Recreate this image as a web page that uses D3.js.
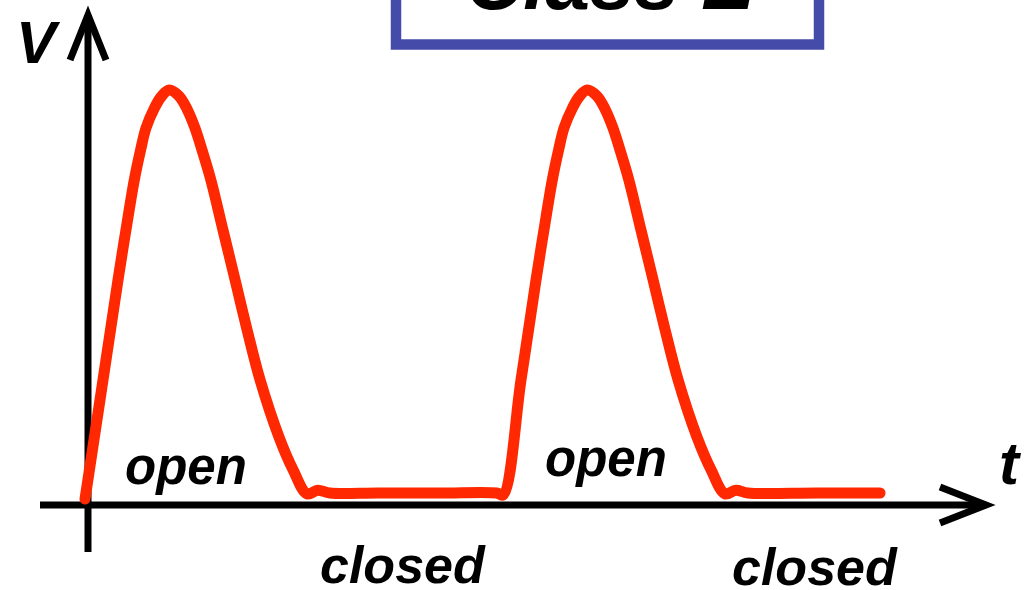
<!DOCTYPE html>
<html>
<head>
<meta charset="utf-8">
<script src="https://cdn.jsdelivr.net/npm/d3@7"></script>
<style>
  html, body { margin: 0; padding: 0; background: #fff; }
  svg { display: block; }
  text { font-family: "Liberation Sans", Arial, sans-serif; font-weight: bold; font-style: italic; fill: #000; }
</style>
</head>
<body>
<svg id="chart" width="1033" height="590"></svg>
<script>
// ---- data ----
const title = "Class E";
const axisLabelV = "V";
const axisLabelT = "t";
const stateLabels = ["open", "closed", "open", "closed"];
// time (one switching period = 1) and normalised voltage
const tValues = [
  0.000, 0.043, 0.079, 0.098, 0.118, 0.133, 0.146, 0.166, 0.182, 0.201, 0.225, 0.244, 0.263, 0.280, 0.301, 0.330, 0.359, 0.388, 0.419, 0.464, 0.498, 0.531, 0.557, 0.586, 0.700, 0.850, 0.985,
  1.000, 1.043, 1.079, 1.098, 1.118, 1.133, 1.146, 1.166, 1.182, 1.201, 1.225, 1.244, 1.263, 1.280, 1.301, 1.330, 1.359, 1.388, 1.419, 1.464, 1.498, 1.531, 1.557, 1.586, 1.750, 1.902
];
const vValues = [
  -0.015, 0.280, 0.529, 0.653, 0.777, 0.851, 0.906, 0.955, 0.983, 1.000, 0.985, 0.953, 0.906, 0.851, 0.777, 0.653, 0.529, 0.404, 0.280, 0.139, 0.057, -0.002, 0.007, 0.000, 0.000, 0.000, 0.000,
  -0.005, 0.280, 0.529, 0.653, 0.777, 0.851, 0.906, 0.955, 0.983, 1.000, 0.985, 0.953, 0.906, 0.851, 0.777, 0.653, 0.529, 0.404, 0.280, 0.139, 0.057, -0.002, 0.007, 0.000, 0.000, 0.000
];

// ---- layout ----
const svg = d3.select("#chart");
const x = d3.scaleLinear().domain([0, 1]).range([85, 503]);
const y = d3.scaleLinear().domain([0, 1]).range([493, 90]);
const axisY = 505, axisX = 88;
const black = "#000";
const red = "#ff2800";

// title box
svg.append("rect")
  .attr("x", 396).attr("y", -30).attr("width", 423).attr("height", 74.5)
  .attr("fill", "#fff").attr("stroke", "#454ba9").attr("stroke-width", 10.5);
svg.append("text").attr("x", 610).attr("y", 9).attr("text-anchor", "middle")
  .style("font-size", "80px").text(title);

// axes
svg.append("line").attr("x1", 40).attr("x2", 986).attr("y1", axisY).attr("y2", axisY)
  .attr("stroke", black).attr("stroke-width", 7);
svg.append("polyline").attr("points", "940,487 986,505 940,523")
  .attr("fill", "none").attr("stroke", black).attr("stroke-width", 7).attr("stroke-linejoin", "miter").attr("stroke-miterlimit", 10);
svg.append("line").attr("x1", axisX).attr("x2", axisX).attr("y1", 552).attr("y2", 15)
  .attr("stroke", black).attr("stroke-width", 7);
svg.append("polyline").attr("points", "70,60 88,15 106,60")
  .attr("fill", "none").attr("stroke", black).attr("stroke-width", 7).attr("stroke-linejoin", "miter").attr("stroke-miterlimit", 10);

// axis labels
svg.append("text").attr("x", 16).attr("y", 63).style("font-size", "60px").text(axisLabelV);
svg.append("text").attr("x", 999).attr("y", 484).style("font-size", "60px").text(axisLabelT);

// waveform
const pts = tValues.map((t, i) => [t, vValues[i]]);
const line = d3.line().x(d => x(d[0])).y(d => y(d[1])).curve(d3.curveCatmullRom.alpha(0.5));
svg.append("path").datum(pts).attr("d", line)
  .attr("fill", "none").attr("stroke", red).attr("stroke-width", 11)
  .attr("stroke-linecap", "round").attr("stroke-linejoin", "round");

// state labels
const labelPos = [[125, 484, 51], [320, 583, 52], [545, 476, 51], [732, 585, 52]];
stateLabels.forEach((s, i) => {
  svg.append("text").attr("x", labelPos[i][0]).attr("y", labelPos[i][1])
    .style("font-size", labelPos[i][2] + "px").text(s);
});
</script>
</body>
</html>
